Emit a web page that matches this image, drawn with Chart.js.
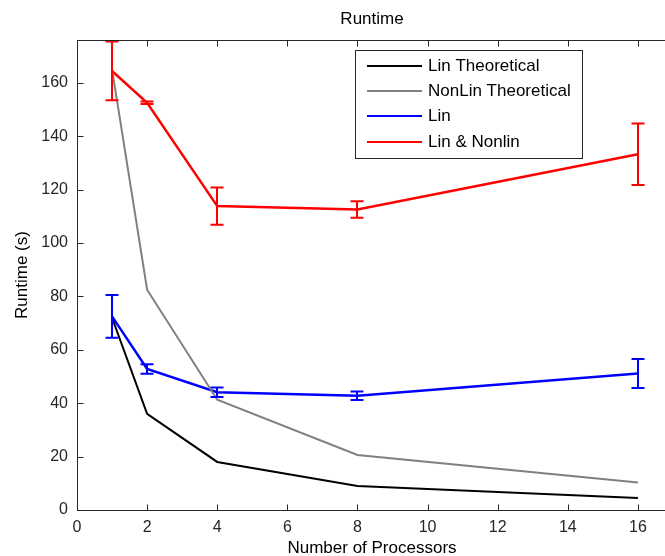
<!DOCTYPE html>
<html>
<head>
<meta charset="utf-8">
<script src="https://cdn.jsdelivr.net/npm/chart.js@4"></script>
<style>
html, body { margin: 0; padding: 0; overflow: hidden; background: #fff; }
#wrap { width: 680px; height: 556px; }
</style>
</head>
<body>
<div id="wrap"><canvas id="chartRuntime" width="680" height="556"></canvas></div>
<script>
// Datos
const procesadores = [1, 2, 4, 8, 16];
const linTeorico = [72, 36, 18, 9, 4.5];
const nonLinTeorico = [165, 82.5, 41.3, 20.6, 10.3];
const linMedido = [72.5, 52.8, 44.1, 42.8, 51.1];
const linError = [8, 1.8, 1.8, 1.6, 5.4];
const linNonlinMedido = [164.4, 152.5, 113.8, 112.5, 133.2];
const linNonlinError = [11, 0.5, 7, 3.1, 11.5];
const etiquetas = ['Lin Theoretical', 'NonLin Theoretical', 'Lin', 'Lin & Nonlin'];
const colores = ['#000000', '#808080', '#0000ff', '#ff0000'];
const ticksX = [0, 2, 4, 6, 8, 10, 12, 14, 16];
const ticksY = [0, 20, 40, 60, 80, 100, 120, 140, 160];

const FUENTE = '"Liberation Sans", Arial, sans-serif';
const EJE = '#262626';

const puntos = arr => procesadores.map((x, i) => ({ x, y: arr[i] }));

// Caja, marcas interiores, barras de error, leyenda y títulos (estilo MATLAB)
const estiloMatlab = {
    id: 'estiloMatlab',
    afterDatasetsDraw(chart) {
        const { ctx, chartArea: a, scales: { x, y } } = chart;
        ctx.save();

        // barras de error
        const errores = [[2, linMedido, linError], [3, linNonlinMedido, linNonlinError]];
        errores.forEach(([idx, valores, err]) => {
            ctx.strokeStyle = colores[idx];
            ctx.lineWidth = 2;
            procesadores.forEach((p, i) => {
                const px = Math.round(x.getPixelForValue(p));
                const yTop = y.getPixelForValue(valores[i] + err[i]);
                const yBot = y.getPixelForValue(valores[i] - err[i]);
                ctx.beginPath();
                ctx.moveTo(px, yTop); ctx.lineTo(px, yBot);
                ctx.moveTo(px - 6.5, yTop); ctx.lineTo(px + 6.5, yTop);
                ctx.moveTo(px - 6.5, yBot); ctx.lineTo(px + 6.5, yBot);
                ctx.stroke();
            });
        });

        // caja
        ctx.strokeStyle = EJE;
        ctx.lineWidth = 1;
        const l = Math.round(a.left) + 0.5, r = Math.round(a.right) + 0.5;
        const t = Math.round(a.top) + 0.5, b = Math.round(a.bottom) + 0.5;
        ctx.strokeRect(l, t, r - l, b - t);

        // marcas hacia dentro
        ctx.beginPath();
        ticksX.forEach(v => {
            const px = Math.round(x.getPixelForValue(v)) + 0.5;
            ctx.moveTo(px, b); ctx.lineTo(px, b - 6);
            ctx.moveTo(px, t); ctx.lineTo(px, t + 6);
        });
        ticksY.forEach(v => {
            const py = Math.round(y.getPixelForValue(v)) + 0.5;
            ctx.moveTo(l, py); ctx.lineTo(l + 6, py);
            ctx.moveTo(r, py); ctx.lineTo(r - 6, py);
        });
        ctx.stroke();

        // leyenda
        ctx.fillStyle = '#fff';
        ctx.fillRect(356, 51, 227, 107);
        ctx.strokeStyle = EJE;
        ctx.strokeRect(355.5, 50.5, 227, 108);
        const filas = [66, 91, 116, 142];
        ctx.font = '17px ' + FUENTE;
        ctx.textBaseline = 'middle';
        ctx.textAlign = 'left';
        etiquetas.forEach((txt, i) => {
            ctx.strokeStyle = colores[i];
            ctx.lineWidth = 2;
            ctx.beginPath();
            ctx.moveTo(367, filas[i]); ctx.lineTo(422, filas[i]);
            ctx.stroke();
            ctx.fillStyle = '#000';
            ctx.fillText(txt, 428, filas[i]);
        });

        // títulos
        ctx.fillStyle = '#000';
        ctx.textAlign = 'center';
        ctx.fillText('Runtime', 372, 19);
        ctx.fillText('Number of Processors', 372, 548);
        ctx.translate(22, 275);
        ctx.rotate(-Math.PI / 2);
        ctx.fillText('Runtime (s)', 0, 0);
        ctx.restore();
    }
};

const serie = (label, data, color, ancho) => ({
    label, data, borderColor: color, backgroundColor: color,
    borderWidth: ancho, pointRadius: 0, tension: 0, fill: false
});

new Chart(document.getElementById('chartRuntime').getContext('2d'), {
    type: 'line',
    data: {
        datasets: [
            serie(etiquetas[0], puntos(linTeorico), colores[0], 2),
            serie(etiquetas[1], puntos(nonLinTeorico), colores[1], 2),
            serie(etiquetas[2], puntos(linMedido), colores[2], 2.5),
            serie(etiquetas[3], puntos(linNonlinMedido), colores[3], 2.5)
        ]
    },
    options: {
        responsive: false,
        animation: false,
        devicePixelRatio: 1,
        layout: { padding: { left: 0, top: 40, right: 7, bottom: 0 } },
        plugins: { legend: { display: false }, title: { display: false }, tooltip: { enabled: false } },
        scales: {
            x: {
                type: 'linear', min: 0, max: 17,
                grid: { display: false, drawTicks: false },
                border: { display: false },
                ticks: { stepSize: 2, padding: 8, color: EJE, font: { family: FUENTE, size: 16 }, maxRotation: 0 },
                afterBuildTicks: s => { s.ticks = ticksX.map(v => ({ value: v })); },
                afterFit: s => { s.height = 46; }
            },
            y: {
                type: 'linear', min: 0, max: 176,
                grid: { display: false, drawTicks: false },
                border: { display: false },
                ticks: { stepSize: 20, padding: 9, color: EJE, font: { family: FUENTE, size: 16 } },
                afterBuildTicks: s => { s.ticks = ticksY.map(v => ({ value: v })); },
                afterFit: s => { s.width = 77; }
            }
        }
    },
    plugins: [estiloMatlab]
});
</script>
</body>
</html>
